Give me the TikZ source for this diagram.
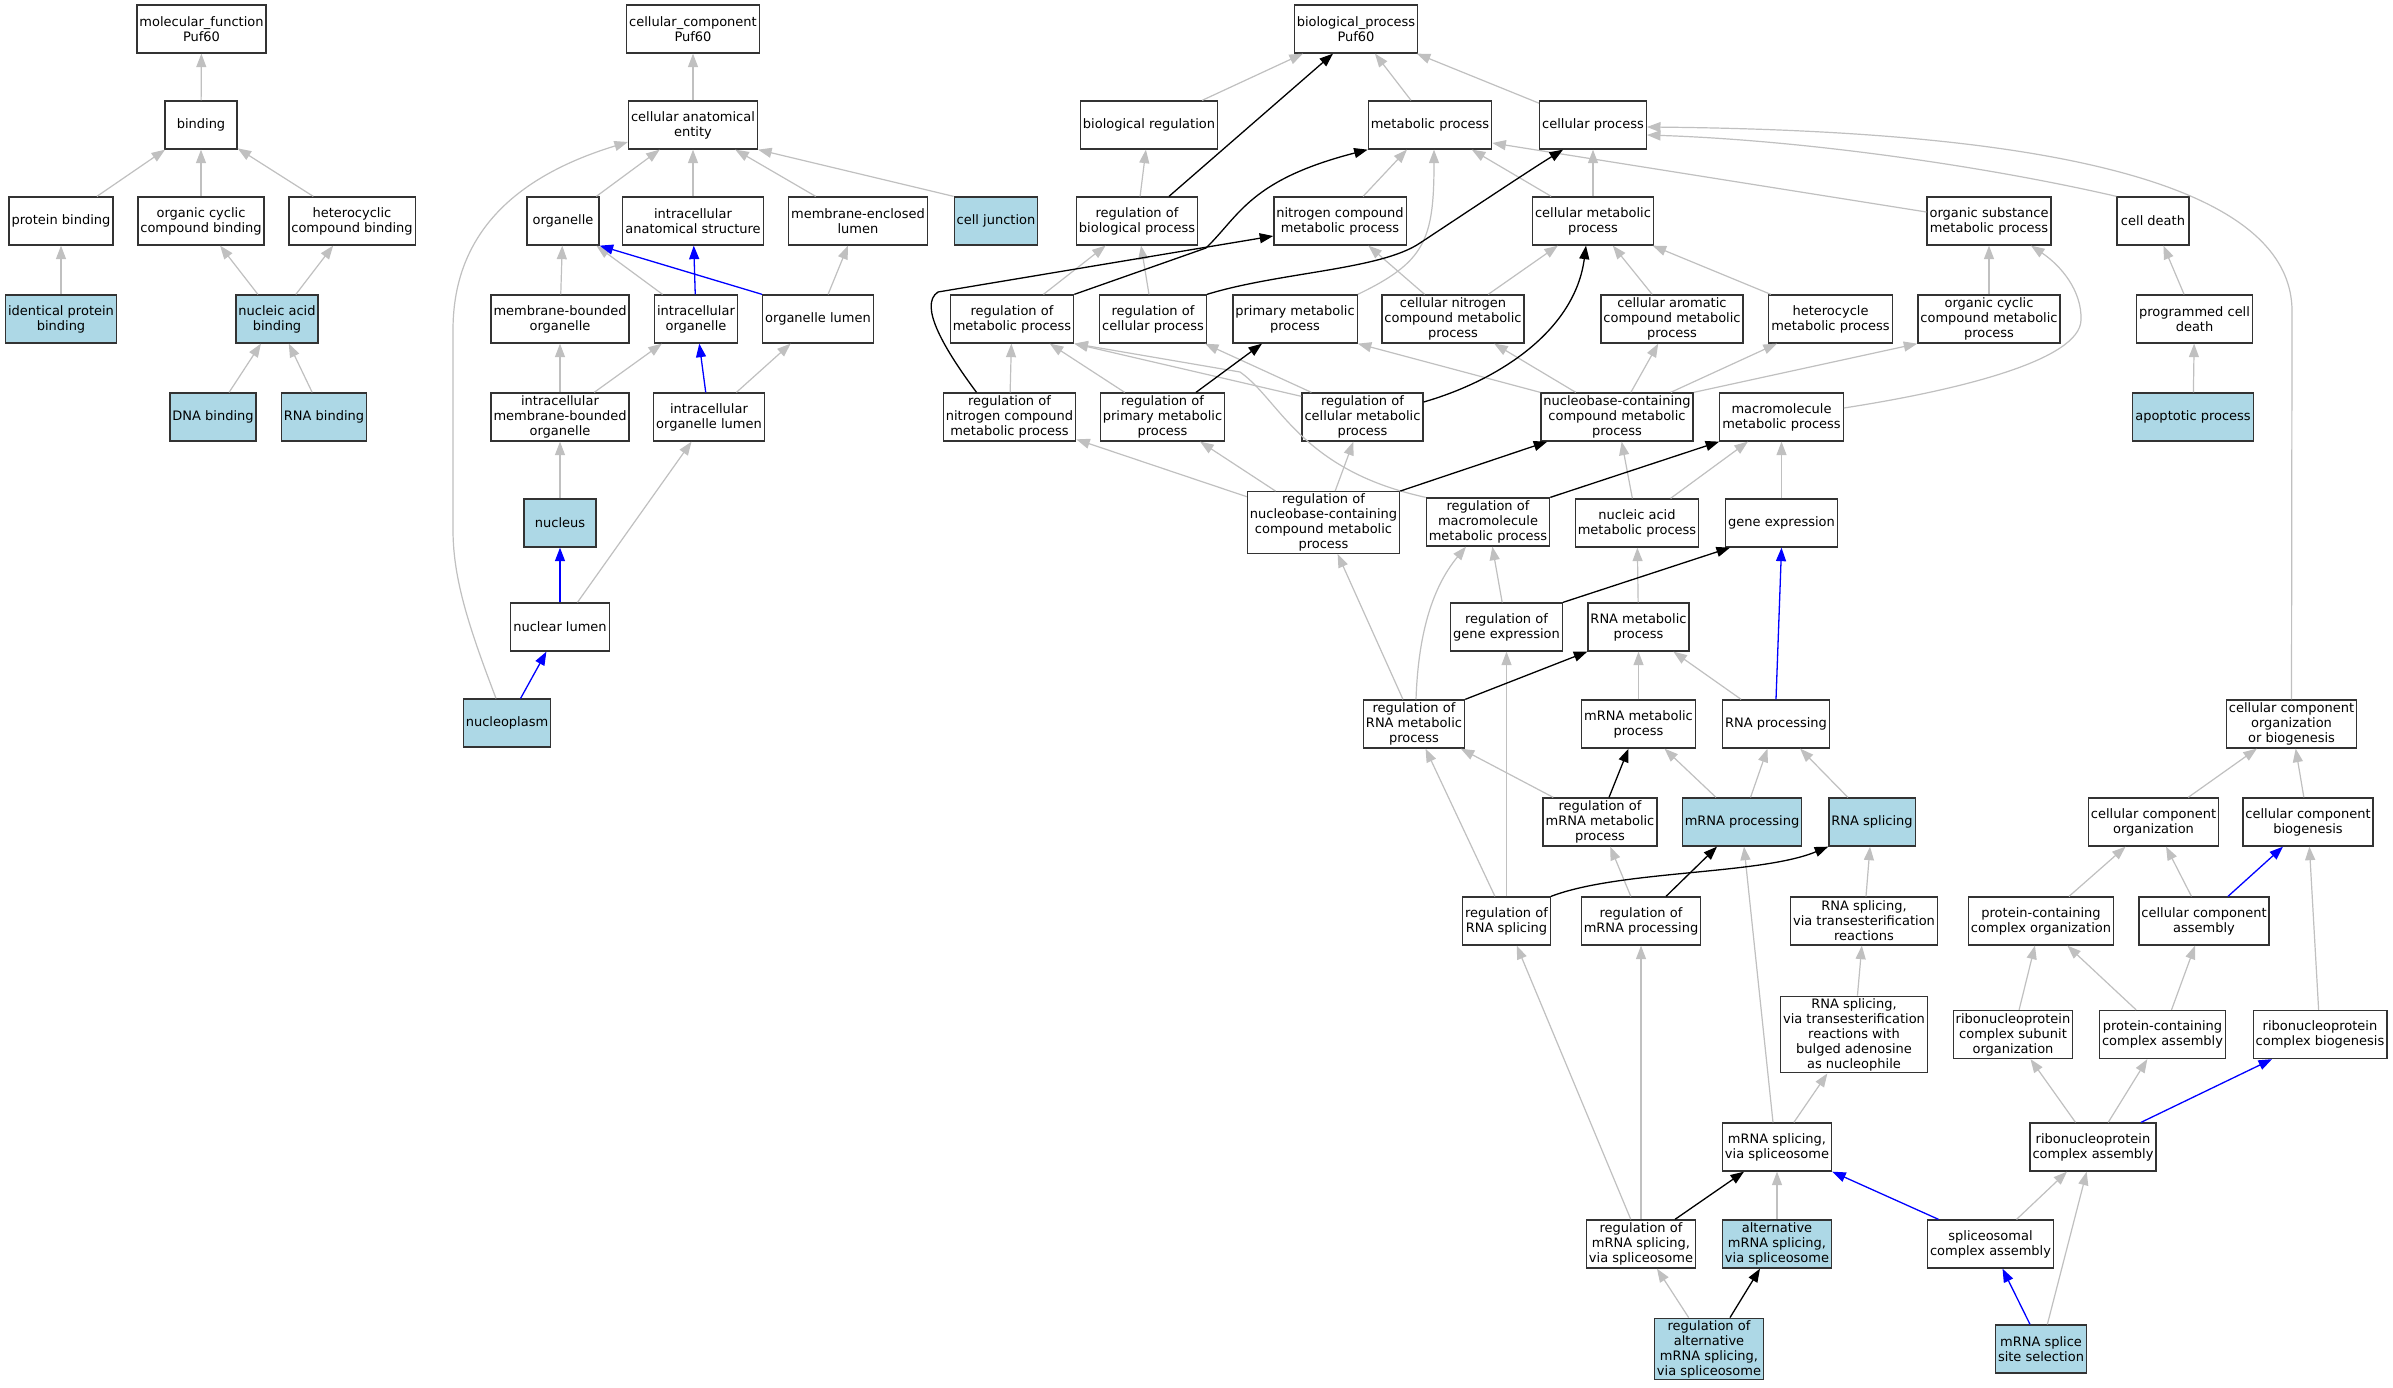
\documentclass[tikz,border=0pt]{standalone}
\usepackage{fontspec}
\setmainfont{DejaVu Sans}
\usetikzlibrary{arrows.meta}
\definecolor{hitblue}{HTML}{ADD8E6}
\definecolor{isagray}{RGB}{192,192,192}

\begin{document}
\begin{tikzpicture}[x=1pt, y=-1pt, >={Triangle[length=13.5pt, width=10pt]}, line width=1.3pt,
	term/.style={draw=black!80, fill=white, align=center, font=\fontsize{13}{15}\selectfont,
		minimum width=72pt, minimum height=48pt, inner xsep=2.5pt, inner ysep=2pt},
	hit/.style={term, fill=hitblue},
	isa/.style={->, color=isagray, line width=1.2pt},
	reg/.style={->, color=black},
	part/.style={->, color=blue}]
		\fill[white] (0,0) rectangle (2393,1387);
		\useasboundingbox (0,0) rectangle (2393,1387);
		
		% molecular function
		\node[term] (mf) at (201.5,29) {molecular\_function\\Puf60};
		\node[term] (bind) at (201,125) {binding};
		\node[term] (pbind) at (61,221) {protein binding};
		\node[term] (ocbind) at (201,221) {organic cyclic\\compound binding};
		\node[term] (hcbind) at (352,221) {heterocyclic\\compound binding};
		\node[hit] (ipbind) at (61,319) {identical protein\\binding};
		\node[hit] (nabind) at (277,319) {nucleic acid\\binding};
		\node[hit] (dnabind) at (213,417) {DNA binding};
		\node[hit] (rnabind) at (324,417) {RNA binding};
		
		% cellular component
		\node[term] (ccroot) at (693,29) {cellular\_component\\Puf60};
		\node[term] (cae) at (693,125) {cellular anatomical\\entity};
		\node[term] (organelle) at (563,221) {organelle};
		\node[term] (ias) at (693,221) {intracellular\\anatomical structure};
		\node[term] (mel) at (858,221) {membrane-enclosed\\lumen};
		\node[hit] (celljunction) at (996,221) {cell junction};
		\node[term] (mbo) at (560,319) {membrane-bounded\\organelle};
		\node[term] (io) at (696,319) {intracellular\\organelle};
		\node[term] (ol) at (818,319) {organelle lumen};
		\node[term] (imbo) at (560,417) {intracellular\\membrane-bounded\\organelle};
		\node[term] (iol) at (709,417) {intracellular\\organelle lumen};
		\node[hit] (nucleus) at (560,523) {nucleus};
		\node[term] (nlumen) at (560,627) {nuclear lumen};
		\node[hit] (nplasm) at (507,723) {nucleoplasm};
		
		% biological process
		\node[term] (bp) at (1356,29) {biological\_process\\Puf60};
		\node[term] (breg) at (1149,125) {biological regulation};
		\node[term] (mp) at (1430,125) {metabolic process};
		\node[term] (cp) at (1593,125) {cellular process};
		\node[term] (rbp) at (1137,221) {regulation of\\biological process};
		\node[term] (ncmp) at (1340,221) {nitrogen compound\\metabolic process};
		\node[term] (cmp) at (1593,221) {cellular metabolic\\process};
		\node[term] (osmp) at (1989,221) {organic substance\\metabolic process};
		\node[term] (cdeath) at (2153,221) {cell death};
		\node[term] (rmp) at (1012,319) {regulation of\\metabolic process};
		\node[term] (rcp) at (1153,319) {regulation of\\cellular process};
		\node[term] (pmp) at (1295,319) {primary metabolic\\process};
		\node[term] (cncmp) at (1453,319) {cellular nitrogen\\compound metabolic\\process};
		\node[term] (camp) at (1672,319) {cellular aromatic\\compound metabolic\\process};
		\node[term] (hmp) at (1830.5,319) {heterocycle\\metabolic process};
		\node[term] (occmp) at (1989,319) {organic cyclic\\compound metabolic\\process};
		\node[term] (pcd) at (2194.5,319) {programmed cell\\death};
		\node[term] (rncmp) at (1009.5,417) {regulation of\\nitrogen compound\\metabolic process};
		\node[term] (rpmp) at (1162.5,417) {regulation of\\primary metabolic\\process};
		\node[term] (rcmp) at (1362.5,417) {regulation of\\cellular metabolic\\process};
		\node[term] (nbcmp) at (1617,417) {nucleobase-containing\\compound metabolic\\process};
		\node[term] (mmp) at (1781.5,417) {macromolecule\\metabolic process};
		\node[hit] (apop) at (2193,417) {apoptotic process};
		\node[term] (rnbcmp) at (1323.5,522.5) {regulation of\\nucleobase-containing\\compound metabolic\\process};
		\node[term] (rmmp) at (1488,522) {regulation of\\macromolecule\\metabolic process};
		\node[term] (namp) at (1637,523) {nucleic acid\\metabolic process};
		\node[term] (gexp) at (1781.5,523) {gene expression};
		\node[term] (rgexp) at (1506.5,627) {regulation of\\gene expression};
		\node[term] (rnamp) at (1638.5,627) {RNA metabolic\\process};
		\node[term] (rrnamp) at (1414,724) {regulation of\\RNA metabolic\\process};
		\node[term] (mrnamp) at (1638.5,724) {mRNA metabolic\\process};
		\node[term] (rnaproc) at (1776,724) {RNA processing};
		\node[term] (ccob) at (2291.5,724) {cellular component\\organization\\or biogenesis};
		\node[term] (rmrnamp) at (1600,822) {regulation of\\mRNA metabolic\\process};
		\node[hit] (mrnaproc) at (1742,822) {mRNA processing};
		\node[hit] (rnaspl) at (1872,822) {RNA splicing};
		\node[term] (cco) at (2153.5,822) {cellular component\\organization};
		\node[term] (ccb) at (2308,822) {cellular component\\biogenesis};
		\node[term] (rrnaspl) at (1506.5,921) {regulation of\\RNA splicing};
		\node[term] (rmrnaproc) at (1641,921) {regulation of\\mRNA processing};
		\node[term] (rsvt) at (1864,921) {RNA splicing,\\via transesterification\\reactions};
		\node[term] (pcco) at (2041,921) {protein-containing\\complex organization};
		\node[term] (cca) at (2204,921) {cellular component\\assembly};
		\node[term] (rsbulged) at (1854,1034.5) {RNA splicing,\\via transesterification\\reactions with\\bulged adenosine\\as nucleophile};
		\node[term] (rcso) at (2013,1034.5) {ribonucleoprotein\\complex subunit\\organization};
		\node[term] (pcca) at (2162.5,1034.5) {protein-containing\\complex assembly};
		\node[term] (rcbio) at (2320,1034.5) {ribonucleoprotein\\complex biogenesis};
		\node[term] (mss) at (1777,1147) {mRNA splicing,\\via spliceosome};
		\node[term] (rca) at (2093,1147) {ribonucleoprotein\\complex assembly};
		\node[term] (rmss) at (1641,1244) {regulation of\\mRNA splicing,\\via spliceosome};
		\node[hit] (altmss) at (1777,1244) {alternative\\mRNA splicing,\\via spliceosome};
		\node[term] (sca) at (1990.5,1244) {spliceosomal\\complex assembly};
		\node[hit] (raltmss) at (1709,1349) {regulation of\\alternative\\mRNA splicing,\\via spliceosome};
		\node[hit] (msss) at (2041,1349) {mRNA splice\\site selection};
		
		\path[isa] (bind) edge (mf)
			(pbind) edge (bind)
			(ocbind) edge (bind)
			(hcbind) edge (bind)
			(ipbind) edge (pbind)
			(nabind) edge (ocbind)
			(nabind) edge (hcbind)
			(dnabind) edge (nabind)
			(rnabind) edge (nabind);
		
		\path[isa] (cae) edge (ccroot)
			(organelle) edge (cae)
			(ias) edge (cae)
			(mel) edge (cae)
			(celljunction.north west) edge (cae.south east)
			(mbo) edge (organelle)
			(io) edge (organelle)
			(ol) edge (mel)
			(imbo) edge (mbo)
			(imbo) edge (io)
			(iol) edge (ol)
			(nucleus) edge (imbo)
			(nlumen) edge (iol);
		\draw[isa] ([xshift=-11]nplasm.north) .. controls (470,630) and (453,580) .. (453,530)
			-- (453,330) .. controls (453,230) and (520,175) .. ([yshift=-17]cae.west); % long way round
		\path[part] (ol.north west) edge (organelle.south east)
			(io) edge (ias)
			(iol) edge (io)
			(nlumen) edge (nucleus)
			(nplasm) edge (nlumen);
		
		\path[isa] (breg) edge (bp)
			(mp) edge (bp)
			(cp) edge (bp)
			(rbp) edge (breg)
			(ncmp) edge (mp)
			(cmp) edge (mp)
			(cmp) edge (cp)
			([yshift=9]osmp.west) edge ([yshift=-18]mp.east)
			(rmp) edge (rbp)
			(rcp) edge (rbp)
			(rncmp) edge (rmp)
			(rpmp) edge (rmp)
			([yshift=-4]rcmp.north west) edge (rmp.south east)
			([xshift=10]rcmp.north west) edge ([xshift=-2]rcp.south east)
			(cncmp) edge (ncmp)
			(cncmp) edge (cmp)
			(camp) edge (cmp)
			(hmp) edge (cmp)
			(occmp) edge (osmp)
			(pcd) edge (cdeath)
			(apop) edge (pcd)
			(nbcmp.north west) edge (pmp.south east)
			(nbcmp) edge (cncmp)
			(nbcmp) edge (camp)
			(nbcmp) edge (hmp)
			(nbcmp.north east) edge (occmp.south west)
			(rnbcmp) edge (rncmp)
			(rnbcmp) edge (rpmp)
			(rnbcmp) edge (rcmp)
			(namp) edge (nbcmp)
			(namp) edge (mmp)
			(gexp) edge (mmp)
			(rgexp) edge (rmmp)
			(rnamp) edge (namp)
			(rrnamp) edge (rnbcmp)
			(mrnamp) edge (rnamp)
			(rnaproc) edge (rnamp)
			(rmrnamp) edge (rrnamp)
			(mrnaproc) edge (mrnamp)
			(mrnaproc) edge (rnaproc)
			(rnaspl) edge (rnaproc)
			(rrnaspl) edge (rrnamp)
			(rrnaspl) edge (rgexp)
			(rmrnaproc) edge (rmrnamp)
			(rsvt) edge (rnaspl)
			(rsbulged) edge (rsvt)
			(mss) edge (rsbulged)
			([xshift=-4]mss.north) edge ([xshift=2]mrnaproc.south)
			(rmss) edge (rrnaspl)
			(rmss) edge (rmrnaproc)
			(altmss) edge (mss)
			(raltmss) edge (rmss)
			(sca) edge (rca)
			(msss) edge (rca)
			(rca) edge (rcso)
			(rca) edge (pcca)
			(rcso) edge (pcco)
			(pcca) edge (pcco)
			(pcca) edge (cca)
			(rcbio) edge (ccb)
			(pcco) edge (cco)
			(cca) edge (cco)
			(cco) edge (ccob)
			(ccb) edge (ccob);
		
		\draw[isa] (pmp.north east) .. controls (1425,262) and (1434,240) .. ([xshift=4]mp.south);
		\draw[isa] (rmmp.north west) .. controls (1300,470) and (1280,400) .. (1240,372) -- (rmp.south east);
		\draw[isa] ([xshift=2]rrnamp.north) .. controls (1418,640) and (1430,590) .. ([xshift=-22]rmmp.south);
		\draw[isa] ([yshift=9]mmp.east) .. controls (1960,390) and (2080,360) .. (2081,320)
			.. controls (2082,290) and (2060,265) .. ([xshift=42]osmp.south);
		\draw[isa] (cdeath.north west) .. controls (1980,165) and (1800,140) .. ([yshift=-10]cp.east);
		\draw[isa] (ccob.north) -- (2292,310) .. controls (2290,160) and (1950,130) .. ([yshift=-2]cp.east);
		
		\path[reg] ([xshift=32]rbp.north) edge ([xshift=-23]bp.south)
			([xshift=33.5]rpmp.north) edge ([xshift=-33]pmp.south)
			(rnbcmp.north east) edge ([xshift=7]nbcmp.south west)
			(rmmp.north east) edge (mmp.south west)
			(rgexp.north east) edge ([xshift=5]gexp.south west)
			(rrnamp.north east) edge (rnamp.south west)
			([xshift=9]rmrnamp.north) edge ([xshift=-10]mrnamp.south)
			([xshift=25]rmrnaproc.north) edge ([xshift=-25]mrnaproc.south)
			([xshift=34]rmss.north) edge ([xshift=-33]mss.south)
			([xshift=21]raltmss.north) edge ([xshift=-17]altmss.south);
		\draw[reg] (rmp.north east) -- (1206,248) .. controls (1240,215) and (1250,180) .. (mp.south west);
		\draw[reg] (rcp.north east) .. controls (1280,272) and (1380,270) .. (1420,243)
			.. controls (1470,210) and (1530,170) .. ([xshift=24]cp.south west);
		\draw[reg] ([xshift=-33]rncmp.north) .. controls (945,350) and (918,305) .. (938,292)
			-- ([yshift=-15]ncmp.west);
		\draw[reg] ([yshift=15]rcmp.east) .. controls (1500,380) and (1575,330) .. ([xshift=-7]cmp.south);
		\draw[reg] (rrnaspl.north east) .. controls (1620,870) and (1760,875) .. (rnaspl.south west);
		
		\path[part] (rnaproc.north) edge (gexp.south)
			([xshift=24]cca.north) edge ([xshift=-25]ccb.south)
			([xshift=48]rca.north) edge ([xshift=-48]rcbio.south)
			([xshift=-52]sca.north) edge (mss.south east)
			([xshift=-11]msss.north) edge ([xshift=12]sca.south);
	\end{tikzpicture}
\end{document}
